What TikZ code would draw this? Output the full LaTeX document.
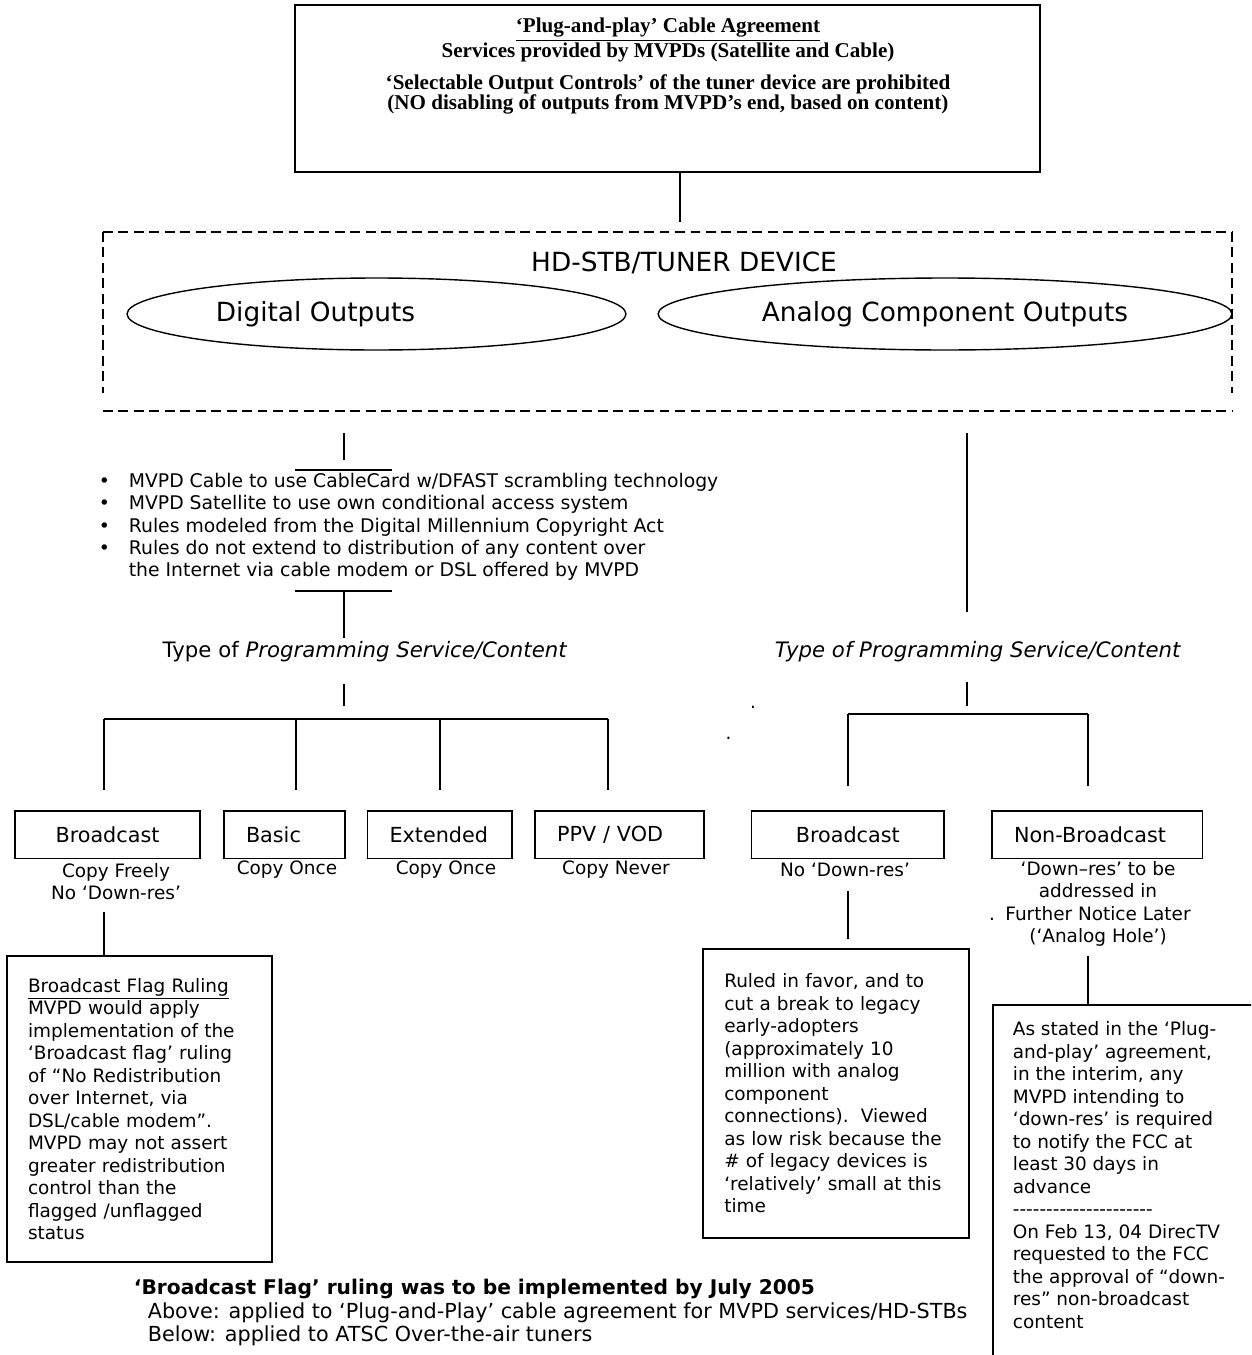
\documentclass[tikz,border=0pt]{standalone}
\usepackage{fontspec}
\setmainfont{DejaVu Sans}
\newfontfamily\serifbold{Liberation Serif}
\usetikzlibrary{shapes.geometric,positioning}

\begin{document}
\begin{tikzpicture}[x=0.02cm, y=-0.02cm, line width=1pt,
  every node/.style={font=\fontsize{10.5}{12.8}\selectfont, inner sep=0pt},
  topbox/.style={draw, line width=1.2pt, minimum width=14.9cm, minimum height=3.34cm},
  outlet/.style={draw, ellipse, line width=0.8pt, minimum height=1.44cm},
  catbox/.style={draw, minimum height=0.95cm, inner xsep=0.44cm, align=left,
                 font=\fontsize{11.8}{14}\selectfont},
  notebox/.style={draw, inner xsep=0.42cm, align=left},
  subnote/.style={align=center},
  typelbl/.style={font=\fontsize{12.1}{14}\selectfont},
  devline/.style={dash pattern=on 5.6pt off 3.2pt}]

  \useasboundingbox (0,0) rectangle (1251,1355);
  \clip (0,0) rectangle (1251,1355);

  % ---- agreement box
  \node[topbox] (agree) at (667.5,88.5) {};
  \node[align=center, font=\serifbold\bfseries\fontsize{12}{11.3}\selectfont] (agreetxt) at (668,66)
    {\underline{‘Plug-and-play’ Cable Agreement}\\
     Services provided by MVPDs (Satellite and Cable)\\[6.8pt]
     ‘Selectable Output Controls’ of the tuner device are prohibited\\
     (NO disabling of outputs from MVPD’s end, based on content)};

  % ---- tuner device, dashed frame
  \coordinate (devnw) at (103,232);  \coordinate (devne) at (1232,232);
  \coordinate (devsw) at (103,411);  \coordinate (devse) at (1232,411);
  \draw[devline] (devnw) -- (devne);
  \draw[devline] (devsw) -- (devse);
  \draw[devline] (devnw) -- ++(0,161);
  \draw[devline] (devne) -- ++(0,161);
  \coordinate (devtop) at (680,222);
  \draw (agree.south -| devtop) -- (devtop);

  \node[font=\fontsize{15}{18}\selectfont] (devtitle) at (684,263) {HD-STB/TUNER DEVICE};
  \node[outlet, minimum width=9.98cm,
        label={[xshift=-1.22cm, font=\fontsize{15}{18}\selectfont]center:Digital Outputs}] (digital) at (376.5,314) {};
  \node[outlet, minimum width=11.48cm, font=\fontsize{15}{18}\selectfont] (analog) at (945,314) {Analog Component Outputs};

  % ---- digital side
  \coordinate (dg1) at (344,433);
  \draw (dg1) -- ++(0,27);
  \coordinate (rulestop) at (295,470);
  \draw (rulestop) -- ++(97,0);
  \node[anchor=west, align=left, font=\fontsize{10.7}{12.75}\selectfont] (rules) at (98,527)
    {\makebox[0.6cm][l]{\textbullet}MVPD Cable to use CableCard w/DFAST scrambling technology\\
     \makebox[0.6cm][l]{\textbullet}MVPD Satellite to use own conditional access system\\
     \makebox[0.6cm][l]{\textbullet}Rules modeled from the Digital Millennium Copyright Act\\
     \makebox[0.6cm][l]{\textbullet}Rules do not extend to distribution of any content over\\
     \hspace*{0.6cm}the Internet via cable modem or DSL offered by MVPD};
  \coordinate (rulesbot) at (295,591);
  \draw (rulesbot) -- ++(97,0);
  \draw (rulesbot -| dg1) -- ++(0,47);
  \node[typelbl] (ltype) at (365,652) {Type of \textit{Programming Service/Content}};
  \coordinate (dg2) at (344,684);
  \draw (dg2) -- ++(0,22);

  \coordinate (lb1) at (104,719);  \coordinate (lb2) at (296,719);
  \coordinate (lb3) at (440,719);  \coordinate (lb4) at (608,719);
  \draw (lb1) -- (lb4);
  \foreach \b in {lb1,lb2,lb3,lb4} \draw (\b) -- ++(0,71);

  \node[catbox, text width=2.82cm, align=center] (bcastd) at (107.5,834.75) {Broadcast};
  \node[catbox, text width=1.54cm] (basic) at (284.5,834.75) {Basic};
  \node[catbox, text width=2.01cm] (extended) at (439.75,834.75) {Extended};
  \node[catbox, text width=2.5cm] (ppv) at (619.5,834.75) {PPV / VOD};

  \node[subnote] (bcastdnote) at (116,881.5) {Copy Freely\\No ‘Down-res’};
  \node[subnote] (basicnote) at (287,870) {Copy Once};
  \node[subnote] (extnote) at (446,870) {Copy Once};
  \node[subnote] (ppvnote) at (616,870) {Copy Never};

  \coordinate (fl) at (104,912);
  \node[notebox, minimum width=5.3cm, minimum height=6.12cm, text width=4.46cm] (flag) at (139.5,1109)
    {\underline{Broadcast Flag Ruling}\\
     MVPD would apply\\
     implementation of the\\
     ‘Broadcast flag’ ruling\\
     of “No Redistribution\\
     over Internet, via\\
     DSL/cable modem”.\\
     MVPD may not assert\\
     greater redistribution\\
     control than the\\
     flagged /unflagged\\
     status};
  \draw (fl) -- (flag.north -| fl);

  % ---- analog side
  \coordinate (an1) at (967,433);
  \draw (an1) -- ++(0,179);
  \node[typelbl] (rtype) at (978,652) {\textit{Type of Programming Service/Content}};
  \coordinate (an2) at (967,682);
  \draw (an2) -- ++(0,24);
  \coordinate (rb1) at (848,714);  \coordinate (rb2) at (1088,714);
  \draw (rb1) -- (rb2);
  \foreach \b in {rb1,rb2} \draw (\b) -- ++(0,72);

  \node[catbox, text width=2.97cm, align=center] (bcasta) at (847.75,834.75) {Broadcast};
  \node[catbox, text width=3.33cm] (nonbcast) at (1097.25,834.75) {Non-Broadcast};
  \node[subnote] (bcastanote) at (845,870) {No ‘Down-res’};
  \node[subnote] (nonnote) at (1098,904)
    {‘Down–res’ to be\\addressed in\\Further Notice Later\\(‘Analog Hole’)};

  \coordinate (rl) at (848,891);
  \draw (rl) -- ++(0,48);
  \node[notebox, minimum width=5.31cm, minimum height=5.78cm, text width=4.47cm] (ruled) at (836,1093.5)
    {Ruled in favor, and to\\
     cut a break to legacy\\
     early-adopters\\
     (approximately 10\\
     million with analog\\
     component\\
     connections).\ \ Viewed\\
     as low risk because the\\
     \# of legacy devices is\\
     ‘relatively’ small at this\\
     time};

  \coordinate (al) at (1088,956);
  \node[draw, anchor=north west, minimum width=5.6cm, minimum height=7.8cm] (advance) at (992,1004) {};
  \draw (al) -- (advance.north -| al);
  \node[anchor=north west, align=left] (advancetxt) at (1012,1021)
    {As stated in the ‘Plug-\\
     and-play’ agreement,\\
     in the interim, any\\
     MVPD intending to\\
     ‘down-res’ is required\\
     to notify the FCC at\\
     least 30 days in\\
     advance\\
     {-}{-}{-}{-}{-}{-}{-}{-}{-}{-}{-}{-}{-}{-}{-}{-}{-}{-}{-}{-}{-}\\
     On Feb 13, 04 DirecTV\\
     requested to the FCC\\
     the approval of “down-\\
     res” non-broadcast\\
     content};

  % stray marks
  \node (dot1) at (753,707) {.};
  \node (dot2) at (728.5,738) {.};
  \node (dot3) at (992,919) {.};

  % ---- footnote
  \node[anchor=west, font=\bfseries\fontsize{11.5}{13}\selectfont] (flagdate) at (133,1289)
    {‘Broadcast Flag’ ruling was to be implemented by July 2005};
  \node[anchor=west, align=left, font=\fontsize{11.8}{13}\selectfont] (scopenote) at (147,1324.5)
    {Above: applied to ‘Plug-and-Play’ cable agreement for MVPD services/HD-STBs\\
     Below: applied to ATSC Over-the-air tuners};
\end{tikzpicture}
\end{document}
